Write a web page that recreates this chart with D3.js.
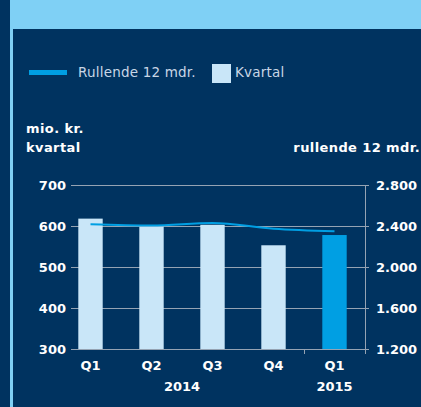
<!DOCTYPE html>
<html>
<head>
<meta charset="utf-8">
<script src="https://cdn.jsdelivr.net/npm/d3@7"></script>
<style>
  body { margin: 0; background: #003360; }
  svg { display: block; }
</style>
</head>
<body>
<div id="main-chart"></div>
<script>
const width = 421;
const height = 407;

const quarters = ["Q1", "Q2", "Q3", "Q4", "Q1"];
const years = ["2014", "2014", "2014", "2014", "2015"];
const quarterly = [618, 599, 603, 553, 578];
const rolling = [2417, 2405, 2430, 2374, 2348];
const leftTicks = [300, 400, 500, 600, 700];
const rightTicks = [1200, 1600, 2000, 2400, 2800];

const bg = "#003360";
const frame = "#7fd0f5";
const lightBar = "#c9e6f8";
const accent = "#009fe3";
const gridColor = "#95a3b3";
const font = "'DejaVu Sans', sans-serif";

const plot = { left: 71, right: 365, top: 185, bottom: 349 };

const svg = d3
  .select("#main-chart")
  .append("svg")
  .attr("width", width)
  .attr("height", height)
  .style("background", bg);

// frame
svg.append("rect").attr("x", 10).attr("y", 0).attr("width", width - 10).attr("height", 29).attr("fill", frame);
svg.append("rect").attr("x", 10).attr("y", 0).attr("width", 3).attr("height", height).attr("fill", frame);

const ids = quarters.map((d, i) => i);
const x = d3
  .scaleBand()
  .domain(ids)
  .range([60, 365])
  .paddingInner(0.6)
  .paddingOuter(0.3);

const yLeft = d3.scaleLinear().domain([300, 700]).range([plot.bottom, plot.top]);
const yRight = d3.scaleLinear().domain([1200, 2800]).range([plot.bottom, plot.top]);

// grid
svg
  .append("g")
  .selectAll("line")
  .data(leftTicks)
  .join("line")
  .attr("x1", plot.left)
  .attr("x2", plot.right + 4)
  .attr("y1", (d) => Math.round(yLeft(d)) + 0.5)
  .attr("y2", (d) => Math.round(yLeft(d)) + 0.5)
  .attr("stroke", gridColor)
  .attr("stroke-width", 1);

// right axis line and year separator
svg
  .append("line")
  .attr("x1", plot.right + 0.5)
  .attr("x2", plot.right + 0.5)
  .attr("y1", plot.top)
  .attr("y2", plot.bottom + 5)
  .attr("stroke", gridColor);

svg
  .append("line")
  .attr("x1", Math.round((x(3) + x(4) + x.bandwidth()) / 2) + 0.5)
  .attr("x2", Math.round((x(3) + x(4) + x.bandwidth()) / 2) + 0.5)
  .attr("y1", plot.bottom)
  .attr("y2", plot.bottom + 5)
  .attr("stroke", gridColor);

// bars
svg
  .append("g")
  .selectAll("rect")
  .data(quarterly)
  .join("rect")
  .attr("x", (d, i) => x(i))
  .attr("width", x.bandwidth())
  .attr("y", (d) => yLeft(d))
  .attr("height", (d) => yLeft(300) - yLeft(d))
  .attr("fill", (d, i) => (i === quarterly.length - 1 ? accent : lightBar));

// rolling line
const line = d3
  .line()
  .x((d, i) => x(i) + x.bandwidth() / 2)
  .y((d) => yRight(d))
  .curve(d3.curveMonotoneX);

svg
  .append("path")
  .datum(rolling)
  .attr("d", line)
  .attr("fill", "none")
  .attr("stroke", accent)
  .attr("stroke-width", 2);

// tick labels
const boldFont = `bold 13px ${font}`;

svg
  .append("g")
  .selectAll("text")
  .data(leftTicks)
  .join("text")
  .attr("x", 66)
  .attr("y", (d) => yLeft(d) + 5)
  .attr("text-anchor", "end")
  .attr("fill", "#ffffff")
  .style("font", boldFont)
  .text((d) => d);

svg
  .append("g")
  .selectAll("text")
  .data(rightTicks)
  .join("text")
  .attr("x", 376)
  .attr("y", (d) => yRight(d) + 5)
  .attr("fill", "#ffffff")
  .style("font", boldFont)
  .text((d) => d3.format(",")(d).replace(",", "."));

svg
  .append("g")
  .selectAll("text")
  .data(quarters)
  .join("text")
  .attr("x", (d, i) => x(i) + x.bandwidth() / 2)
  .attr("y", 370)
  .attr("text-anchor", "middle")
  .attr("fill", "#ffffff")
  .style("font", boldFont)
  .text((d) => d);

const yearGroups = d3.groups(ids, (i) => years[i]);
svg
  .append("g")
  .selectAll("text")
  .data(yearGroups)
  .join("text")
  .attr("x", ([, idx]) => (x(idx[0]) + x(idx[idx.length - 1]) + x.bandwidth()) / 2)
  .attr("y", 391)
  .attr("text-anchor", "middle")
  .attr("fill", "#ffffff")
  .style("font", boldFont)
  .text(([yr]) => yr);

// axis titles
const titles = svg
  .append("g")
  .attr("fill", "#ffffff")
  .style("font", boldFont)
  .style("letter-spacing", "0.4px");
titles.append("text").attr("x", 26).attr("y", 133).text("mio. kr.");
titles.append("text").attr("x", 26).attr("y", 152).text("kvartal");
titles.append("text").attr("x", 420).attr("y", 152).attr("text-anchor", "end").text("rullende 12 mdr.");

// legend
const legend = svg.append("g");
legend.append("rect").attr("x", 29).attr("y", 70).attr("width", 38).attr("height", 5).attr("fill", accent);
legend
  .append("text")
  .attr("x", 78)
  .attr("y", 77)
  .attr("fill", "#c8d6e6")
  .style("font", `13.5px ${font}`)
  .style("letter-spacing", "0.2px")
  .text("Rullende 12 mdr.");
legend.append("rect").attr("x", 212).attr("y", 64).attr("width", 19).attr("height", 19).attr("fill", lightBar);
legend
  .append("text")
  .attr("x", 235)
  .attr("y", 77)
  .attr("fill", "#c8d6e6")
  .style("font", `13.5px ${font}`)
  .style("letter-spacing", "0.2px")
  .text("Kvartal");
</script>
</body>
</html>
